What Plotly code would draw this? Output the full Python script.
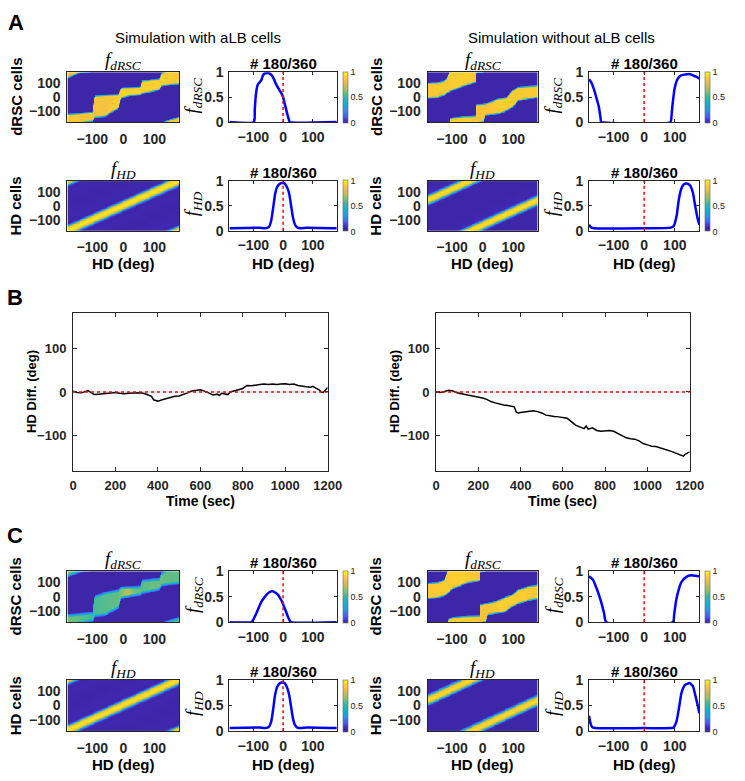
import numpy as np
import plotly.graph_objects as go

W, H = 745, 781

# ======================= DATA =======================
hd_ticks = [-100, 0, 100]
f_ticks = [0, 0.5, 1]
f_ticktext = ["0", "0.5", "1"]
cb_ticks = [0, 0.5, 1]
time_ticks = [0, 200, 400, 600, 800, 1000, 1200]
diff_ticks = [-100, 0, 100]
cell_bins = np.arange(-178.5, 180, 3.0)  # cell / HD bin centres (deg)

# ---- row #180/360 activity profiles (line plots) ----
AL_drsc_x = [-180, -98, -95, -92, -88, -84, -78, -73, -68, -63, -55, -50, -45, -40, -35, -30, -25, -20,
             -15, -10, -5, 0, 5, 10, 15, 20, 22, 180]
AL_drsc_y = [0, 0, 0.25, 0.5, 0.68, 0.76, 0.8, 0.84, 0.93, 0.97, 0.98, 0.99, 0.97, 0.95, 0.91, 0.85, 0.78,
             0.72, 0.67, 0.62, 0.57, 0.5, 0.38, 0.26, 0.14, 0.04, 0, 0]
AL_hd_x = [-180, -80, -60, -48, -40, -33, -27, -20, -12, -5, 0, 5, 12, 20, 27, 33, 40, 48, 60, 80, 180]
AL_hd_y = [0.05, 0.06, 0.05, 0.07, 0.2, 0.47, 0.73, 0.88, 0.94, 0.96, 0.96, 0.95, 0.89, 0.76, 0.5, 0.27,
           0.12, 0.06, 0.05, 0.06, 0.05]

AR_drsc_x = [-180, -173, -167, -161, -157, -152, -148, -144, -141, -140, 86, 89, 92, 95, 98, 102, 106,
             112, 119, 130, 140, 150, 161, 170, 180]
AR_drsc_y = [0.86, 0.8, 0.71, 0.6, 0.51, 0.4, 0.31, 0.15, 0.02, 0, 0, 0.1, 0.31, 0.47, 0.62, 0.74, 0.82,
             0.89, 0.93, 0.95, 0.96, 0.96, 0.93, 0.91, 0.87]
AR_hd_x = [-180, -176, -172, -165, 0, 87, 97, 106, 113, 121, 129, 140, 150, 159, 166, 174, 180]
AR_hd_y = [0.12, 0.08, 0.06, 0.05, 0.05, 0.06, 0.1, 0.3, 0.62, 0.84, 0.93, 0.95, 0.91, 0.77, 0.52, 0.26, 0.12]

CL_drsc_x = [-180, -106, -100, -90, -82, -74, -66, -58, -50, -42, -37, -32, -24, -16, -10, -5, 0, 5, 11,
             16, 21, 26, 180]
CL_drsc_y = [0, 0, 0.05, 0.17, 0.28, 0.39, 0.46, 0.52, 0.57, 0.6, 0.61, 0.6, 0.57, 0.53, 0.47, 0.42, 0.35,
             0.28, 0.19, 0.11, 0.045, 0, 0]
CL_hd_x = [-180, -80, -60, -48, -40, -33, -27, -20, -12, -5, 0, 5, 12, 20, 27, 33, 40, 48, 60, 80, 180]
CL_hd_y = [0.06, 0.07, 0.06, 0.08, 0.18, 0.44, 0.7, 0.86, 0.93, 0.95, 0.95, 0.94, 0.87, 0.72, 0.47, 0.25,
           0.12, 0.07, 0.06, 0.07, 0.06]

CR_drsc_x = [-180, -167, -155, -141, -131, -124, 94, 98, 104, 111, 122, 138, 154, 168, 180]
CR_drsc_y = [0.9, 0.83, 0.66, 0.41, 0.18, 0, 0, 0.15, 0.41, 0.6, 0.79, 0.89, 0.92, 0.91, 0.9]
CR_hd_x = [-180, -175, -170, -160, 0, 90, 96, 106, 115, 122, 133, 148, 159, 167, 175, 180]
CR_hd_y = [0.3, 0.15, 0.08, 0.06, 0.06, 0.06, 0.07, 0.2, 0.5, 0.75, 0.9, 0.94, 0.88, 0.7, 0.5, 0.35]

# ---- dRSC population band (lower / upper cell edge per HD), heatmaps ----
AL_band_x = [-180, -145, -100, -97, -90, -60, -17, -9, 0, 10, 20, 55, 60, 90, 115, 122, 150, 180]
AL_band_lo = [-222, -185, -172, -160, -145, -138, -80, -5, -2, 5, 12, 18, 28, 40, 55, 82, 90, 96]
AL_band_hi = [-126, -120, -110, -40, 6, 12, 15, 62, 64, 65, 66, 70, 115, 122, 128, 170, 195, 215]
AL_amp_x = [-180, -100, -60, -20, 0, 60, 120, 180]
AL_amp = [0.88, 0.86, 0.84, 0.9, 0.92, 0.9, 0.9, 0.88]

AR_band_x = [-180, -150, -140, -125, -118, -105, -63, -31, -22, -21, 5, 10, 54, 80, 97, 118, 150, 180]
AR_band_lo = [-5, -3, 5, 15, 30, 45, 80, 103, 108, -185, -175, -130, -117, -95, -71, -24, -10, -1]
AR_band_hi = [99, 102, 105, 115, 130, 205, 218, 220, 222, -58, -52, -50, -13, -5, 45, 69, 75, 80]
AR_amp_x = [-180, -60, 0, 60, 180]
AR_amp = [0.88, 0.9, 0.86, 0.9, 0.88]

CL_band_x = [-180, -145, -100, -97, -90, -60, -17, -9, 0, 10, 20, 55, 60, 90, 115, 122, 150, 180]
CL_band_lo = [-215, -185, -168, -158, -135, -128, -78, -8, -5, 0, 6, 15, 28, 40, 52, 82, 90, 97]
CL_band_hi = [-132, -126, -116, -45, 0, 25, 42, 62, 63, 64, 65, 70, 112, 118, 124, 165, 190, 210]
CL_amp_x = [-180, -100, -60, -20, 0, 15, 30, 60, 100, 180]
CL_amp = [0.6, 0.52, 0.55, 0.56, 0.64, 0.72, 0.6, 0.55, 0.58, 0.56]

CR_band_x = [-180, -150, -137, -125, -112, -95, -50, -15, -9, -8, 12, 17, 44, 76, 95, 118, 150, 180]
CR_band_lo = [-12, -6, 0, 8, 30, 60, 100, 112, 115, -185, -175, -125, -115, -104, -70, -46, -25, -12]
CR_band_hi = [92, 98, 104, 115, 200, 212, 220, 222, 222, -58, -50, -48, -35, -5, 10, 46, 70, 81]
CR_amp_x = [-180, -60, 0, 60, 180]
CR_amp = [0.88, 0.9, 0.86, 0.9, 0.88]

# ---- panel B: HD difference over time ----
B_with_t = [0, 20, 40, 60, 70, 80, 90, 100, 120, 140, 160, 180, 200, 220, 240, 260, 280, 300, 320, 340,
            360, 370, 380, 390, 400, 420, 440, 460, 480, 500, 520, 540, 560, 580, 600, 620, 640, 650, 660,
            680, 690, 700, 720, 730, 740, 760, 780, 800, 820, 840, 860, 880, 900, 920, 940, 960, 980, 1000,
            1020, 1040, 1060, 1080, 1100, 1120, 1130, 1140, 1160, 1170, 1180, 1190, 1200]
B_with_v = [2, -1, -2, 2, 3, 0, -3, -6, -5, -4, -2, -1, -1, -3, -4, -3, -3, -2, -2, -4,
            -8, -10, -18, -20, -21, -18, -15, -12, -10, -9, -6, -2, 2, 3, 5, 2, -2, -4, -7,
            -5, -8, -3, -5, -6, 0, 2, 5, 8, 15, 14, 16, 17, 18, 17, 18, 17, 18, 19,
            17, 18, 15, 13, 12, 11, 13, 10, 5, 0, -1, 5, 10]
B_without_t = [0, 20, 40, 60, 80, 100, 120, 140, 160, 180, 200, 220, 240, 260, 280, 300, 320, 340, 360,
               370, 380, 390, 400, 420, 440, 460, 480, 500, 520, 540, 560, 580, 600, 620, 640, 660, 680,
               700, 710, 720, 740, 760, 780, 800, 820, 840, 860, 880, 900, 920, 940, 960, 980, 1000, 1020,
               1040, 1060, 1080, 1100, 1120, 1140, 1160, 1170, 1180, 1190, 1200]
B_without_v = [0, -1, 1, 4, 2, -2, -4, -6, -8, -9, -11, -14, -17, -22, -25, -28, -30, -31, -32,
               -34, -46, -48, -47, -46, -45, -43, -45, -48, -53, -55, -56, -57, -58, -60, -68, -76, -80,
               -84, -78, -85, -82, -88, -90, -89, -88, -90, -95, -100, -105, -107, -108, -112, -118, -121, -124,
               -125, -128, -131, -133, -137, -141, -144, -147, -142, -140, -137]

# ======================= HELPERS =======================
PARULA = [
    [0.000, (62, 38, 168)], [0.050, (67, 50, 202)], [0.125, (71, 91, 249)],
    [0.250, (39, 150, 235)], [0.375, (10, 180, 210)], [0.500, (50, 185, 160)],
    [0.625, (139, 193, 110)], [0.750, (215, 186, 80)], [0.875, (253, 197, 55)],
    [0.950, (245, 228, 29)], [1.000, (249, 251, 21)],
]


def colorscale(floor=0.0):
    """parula; values below `floor` (the heat map's minimum) drawn in the darkest colour"""
    out = []
    if floor > 0:
        out.append([0.0, "rgb(62,38,168)"])
    for p, c in PARULA:
        q = floor + p * (1 - floor)
        out.append([q, "rgb(%d,%d,%d)" % c])
    return out


def band_map(kx, lo, hi, ax, av, soft=16.0):
    X, Y = np.meshgrid(cell_bins, cell_bins)
    L = np.interp(cell_bins, kx, lo)
    U = np.interp(cell_bins, kx, hi)
    A = np.interp(cell_bins, ax, av)
    z = np.zeros_like(X)
    for s in (-360, 0, 360):
        Ys = Y + s
        m = np.clip((Ys - L) / soft + 0.5, 0, 1) * np.clip((U - Ys) / soft + 0.5, 0, 1)
        z = np.maximum(z, m)
    return z * A


def hd_map(px, py):
    X, Y = np.meshgrid(cell_bins, cell_bins)
    d = (X - Y + 180) % 360 - 180
    return np.interp(d, px, py)


SANS = "Liberation Sans, Arial, Helvetica, sans-serif"
SERIF = "Liberation Serif, Times New Roman, serif"
AXC = "#262626"

fig = go.Figure()
layout = dict(width=W, height=H, margin=dict(l=0, r=0, t=0, b=0), paper_bgcolor="white",
              plot_bgcolor="white", showlegend=False)
annotations = []
shapes = []
counter = [0]


def px_x(x):
    return x / W


def px_y(y):
    return 1 - y / H


def new_axes(box, xcfg, ycfg):
    counter[0] += 1
    n = counter[0]
    sfx = "" if n == 1 else str(n)
    x0, x1, y0, y1 = box
    layout["xaxis" + sfx] = dict(xcfg, domain=[px_x(x0), px_x(x1)], anchor="y" + sfx)
    layout["yaxis" + sfx] = dict(ycfg, domain=[px_y(y1), px_y(y0)], anchor="x" + sfx)
    return "x" + sfx, "y" + sfx


def base_axis(size=14, **kw):
    d = dict(showline=True, linecolor=AXC, linewidth=1, mirror=True, showgrid=False, zeroline=False,
             tickfont=dict(family=SANS, size=size, color=AXC, weight="bold"))
    d.update(kw)
    return d


def annot(x, y, text, size, family=SANS, weight="normal", angle=0, color="black"):
    annotations.append(dict(x=px_x(x), y=px_y(y), xref="paper", yref="paper", text=text, showarrow=False,
                            xanchor="center", yanchor="middle", textangle=angle,
                            font=dict(family=family, size=size, color=color, weight=weight)))


F_DRSC = "<i>f</i><sub><i>dRSC</i></sub>"
F_HD = "<i>f</i><sub><i>HD</i></sub>"

# column pixel boxes
HM_L = (65, 179.5)
LP_L = (231, 341)
CB_L = 347.5
HM_R = (434, 547)
LP_R = (599.5, 712.5)
CB_R = 718
ROWS = {"A1": (65.5, 116.5), "A2": (176.7, 227.3), "C1": (575, 627), "C2": (686, 738.3)}


def heat_panel(hx, row, z, cbx, floor=0.0):
    y0, y1 = ROWS[row]
    xa, ya = new_axes((hx[0], hx[1], y0, y1),
                      base_axis(range=[-180, 180], tickvals=hd_ticks, ticks="", ticklabelstandoff=4),
                      base_axis(range=[-180, 180], tickvals=hd_ticks, ticks="", ticklabelstandoff=3))
    fig.add_trace(go.Heatmap(x=cell_bins, y=cell_bins, z=z, zmin=0, zmax=1, colorscale=colorscale(floor),
                             xaxis=xa, yaxis=ya, hoverinfo="skip",
                             colorbar=dict(x=px_x(cbx), xanchor="left", xref="paper",
                                           y=px_y((y0 + y1) / 2), yanchor="middle", yref="paper",
                                           len=y1 - y0, lenmode="pixels", thickness=5,
                                           thicknessmode="pixels", xpad=0, ypad=0,
                                           outlinewidth=0.6, outlinecolor="#666",
                                           tickvals=cb_ticks, ticktext=["0", "0.5", "1"], ticks="",
                                           tickfont=dict(family=SANS, size=9, color="#222"))))


def line_panel(lx, row, xs, ys):
    y0, y1 = ROWS[row]
    xa, ya = new_axes((lx[0], lx[1], y0, y1),
                      base_axis(range=[-180, 180], tickvals=hd_ticks, ticks="inside", ticklen=3,
                                tickcolor=AXC, mirror="allticks", ticklabelstandoff=2),
                      base_axis(range=[0, 1], tickvals=f_ticks, ticktext=f_ticktext, ticks="inside",
                                ticklen=3, tickcolor=AXC, mirror="allticks", ticklabelstandoff=2))
    fig.add_trace(go.Scatter(x=xs, y=ys, mode="lines", xaxis=xa, yaxis=ya, hoverinfo="skip",
                             line=dict(color="#0000FF", width=2.5, shape="spline", smoothing=0.5)))
    shapes.append(dict(type="line", xref=xa, yref=ya + " domain", x0=0, x1=0, y0=0, y1=1,
                       line=dict(color="red", width=1.5, dash="dot")))


# ======================= PANEL A =======================
heat_panel(HM_L, "A1", band_map(AL_band_x, AL_band_lo, AL_band_hi, AL_amp_x, AL_amp), CB_L)
line_panel(LP_L, "A1", AL_drsc_x, AL_drsc_y)
heat_panel(HM_L, "A2", hd_map(AL_hd_x, AL_hd_y), CB_L, floor=min(AL_hd_y))
line_panel(LP_L, "A2", AL_hd_x, AL_hd_y)
heat_panel(HM_R, "A1", band_map(AR_band_x, AR_band_lo, AR_band_hi, AR_amp_x, AR_amp), CB_R)
line_panel(LP_R, "A1", AR_drsc_x, AR_drsc_y)
heat_panel(HM_R, "A2", hd_map(AR_hd_x, AR_hd_y), CB_R, floor=min(AR_hd_y))
line_panel(LP_R, "A2", AR_hd_x, AR_hd_y)

# ======================= PANEL C =======================
heat_panel(HM_L, "C1", band_map(CL_band_x, CL_band_lo, CL_band_hi, CL_amp_x, CL_amp, soft=26.0), CB_L)
line_panel(LP_L, "C1", CL_drsc_x, CL_drsc_y)
heat_panel(HM_L, "C2", hd_map(CL_hd_x, CL_hd_y), CB_L, floor=min(CL_hd_y))
line_panel(LP_L, "C2", CL_hd_x, CL_hd_y)
heat_panel(HM_R, "C1", band_map(CR_band_x, CR_band_lo, CR_band_hi, CR_amp_x, CR_amp), CB_R)
line_panel(LP_R, "C1", CR_drsc_x, CR_drsc_y)
heat_panel(HM_R, "C2", hd_map(CR_hd_x, CR_hd_y), CB_R, floor=min(CR_hd_y))
line_panel(LP_R, "C2", CR_hd_x, CR_hd_y)

# ======================= PANEL B =======================
B_BOXES = [(70.7, 331.7), (442.7, 702.7)]
B_Y = (311.7, 472.3)
for (bx0, bx1), tt, vv in zip(B_BOXES, [B_with_t, B_without_t], [B_with_v, B_without_v]):
    xa, ya = new_axes((bx0, bx1, B_Y[0], B_Y[1]),
                      base_axis(size=13, range=[0, 1200], tickvals=time_ticks, ticks="inside", ticklen=4,
                                tickcolor=AXC, mirror="allticks", ticklabelstandoff=3),
                      base_axis(size=13, range=[-180, 180], tickvals=diff_ticks, ticks="inside", ticklen=4,
                                tickcolor=AXC, mirror="allticks", ticklabelstandoff=3))
    shapes.append(dict(type="line", xref=xa + " domain", yref=ya, x0=0, x1=1, y0=0, y1=0,
                       line=dict(color="red", width=1.5, dash="dot")))
    fig.add_trace(go.Scatter(x=tt, y=vv, mode="lines", xaxis=xa, yaxis=ya, hoverinfo="skip",
                             line=dict(color="black", width=1.5)))
    annot((bx0 + bx1) / 2, 503, "Time (sec)", 14, weight="bold")
    annot(bx0 - 42, (B_Y[0] + B_Y[1]) / 2, "HD Diff. (deg)", 13, weight="bold", angle=-90)

# ======================= TEXT =======================
annot(12.5, 15, "A", 22, weight="bold")
annot(11, 296, "B", 22, weight="bold")
annot(11, 539, "C", 22, weight="bold")
annot(198.5, 30, "Simulation with aLB cells", 15)
annot(571, 30, "Simulation without aLB cells", 15)

for hx, lx, ylx, ylab_x in [(HM_L, LP_L, 12, 194), (HM_R, LP_R, 381, 563)]:
    hc = (hx[0] + hx[1]) / 2
    lc = (lx[0] + lx[1]) / 2
    for row, fl, cells in [("A1", F_DRSC, "dRSC cells"), ("A2", F_HD, "HD cells"),
                           ("C1", F_DRSC, "dRSC cells"), ("C2", F_HD, "HD cells")]:
        y0, y1 = ROWS[row]
        annot(hc, y0 - 11, fl, 19, family=SERIF)
        annot(lc, y0 - 9, "# 180/360", 15, weight="bold")
        annot(ylx, (y0 + y1) / 2, cells, 15, weight="bold", angle=-90)
        annot(ylab_x, (y0 + y1) / 2 - 2, fl, 19, family=SERIF, angle=-90)
        if row in ("A2", "C2"):
            annot(hc, y1 + 34, "HD (deg)", 15, weight="bold")
            annot(lc, y1 + 34, "HD (deg)", 15, weight="bold")

layout["annotations"] = annotations
layout["shapes"] = shapes
fig.update_layout(**layout)
fig.write_html("out.html", config={"displayModeBar": False},
               post_script="document.body.style.margin='0px';document.body.style.padding='0px';"
                           "document.body.style.overflow='hidden';")
